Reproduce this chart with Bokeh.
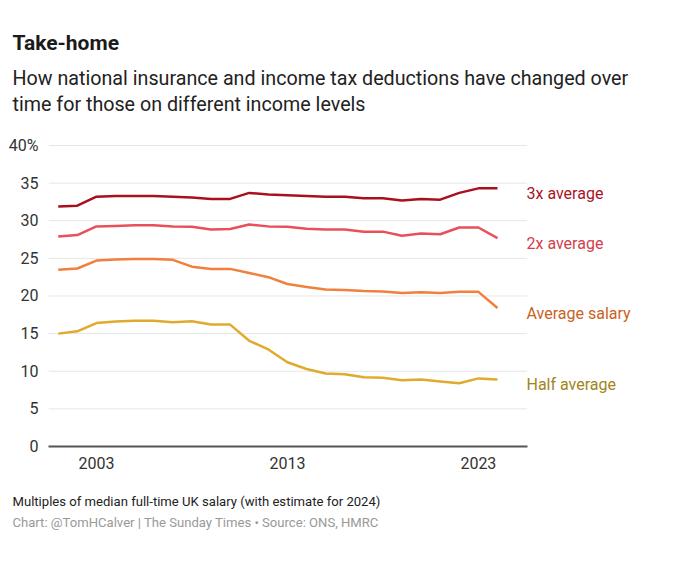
from bokeh.plotting import figure
from bokeh.models import FixedTicker, Range1d, ColumnDataSource, Title
from bokeh.core.properties import value
from bokeh.embed import file_html
from bokeh.resources import INLINE

years = list(range(2001, 2025))
three_x = [31.9, 32.0, 33.2, 33.3, 33.3, 33.3, 33.2, 33.1, 32.9, 32.9, 33.7, 33.5,
           33.4, 33.3, 33.2, 33.2, 33.0, 33.0, 32.7, 32.9, 32.8, 33.7, 34.3, 34.3]
two_x = [27.9, 28.1, 29.25, 29.3, 29.4, 29.4, 29.25, 29.2, 28.85, 28.9, 29.5, 29.25,
         29.2, 28.95, 28.85, 28.85, 28.55, 28.55, 28.0, 28.3, 28.2, 29.1, 29.1, 27.7]
average = [23.5, 23.65, 24.7, 24.85, 24.9, 24.9, 24.8, 23.9, 23.6, 23.6, 23.05, 22.5,
           21.6, 21.2, 20.85, 20.8, 20.65, 20.6, 20.4, 20.5, 20.4, 20.55, 20.55, 18.4]
half = [15.0, 15.3, 16.4, 16.6, 16.7, 16.7, 16.5, 16.65, 16.2, 16.2, 14.05, 12.9,
        11.2, 10.3, 9.7, 9.6, 9.2, 9.15, 8.8, 8.9, 8.65, 8.4, 9.05, 8.9]

series_names = ["3x average", "2x average", "Average salary", "Half average"]
line_colors = ["#a8101e", "#e8505b", "#f0803c", "#e2aa2c"]
label_colors = ["#a8141f", "#d3404d", "#c9631f", "#a08520"]
y_ticks = [0, 5, 10, 15, 20, 25, 30, 35, 40]
x_ticks = [2003, 2013, 2023]

FONT = "Roboto"
X_START, X_GRID_END = 2000.49, 2025.55

p = figure(width=676, height=560, output_backend="svg", toolbar_location=None,
           x_range=Range1d(X_START, 2032.85), y_range=Range1d(0, 40.13),
           min_border_left=48, min_border_right=10, min_border_top=144,
           min_border_bottom=114)
p.outline_line_color = None
p.background_fill_color = "white"
p.border_fill_color = "white"

# y axis
p.yaxis.ticker = FixedTicker(ticks=y_ticks)
p.yaxis.major_label_overrides = {40: "40%"}
p.yaxis.axis_line_color = None
p.yaxis.major_tick_line_color = None
p.yaxis.minor_tick_line_color = None
p.yaxis.major_label_text_font = FONT
p.yaxis.major_label_text_font_size = "16px"
p.yaxis.major_label_text_color = "#333333"
p.yaxis.major_label_standoff = 4

# x axis
p.xaxis.ticker = FixedTicker(ticks=x_ticks)
p.xaxis.bounds = (X_START, X_GRID_END)
p.xaxis.axis_line_color = "#555555"
p.xaxis.axis_line_width = 2
p.xaxis.major_tick_line_color = None
p.xaxis.minor_tick_line_color = None
p.xaxis.major_label_text_font = FONT
p.xaxis.major_label_text_font_size = "16px"
p.xaxis.major_label_text_color = "#333333"
p.xaxis.major_label_standoff = 4

p.xgrid.visible = False
p.ygrid.visible = False
# horizontal gridlines limited to the chart area (labels sit to the right)
p.segment(x0=[X_START] * len(y_ticks), x1=[X_GRID_END] * len(y_ticks),
          y0=y_ticks, y1=y_ticks, line_color="#e6e6e6", line_width=1,
          level="underlay")

src = ColumnDataSource(dict(year=years, three=three_x, two=two_x, avg=average, half=half))
cols = ["three", "two", "avg", "half"]
for col, c in zip(cols, line_colors):
    p.line("year", col, source=src, line_color=c, line_width=2.5, line_join="round")

# end-of-line series labels
last_vals = [three_x[-1], two_x[-1], average[-1], half[-1]]
p.text(x=[years[-1]] * 4, y=last_vals, text=series_names, text_color=label_colors,
       text_font=value(FONT), text_font_size="16px", text_baseline="alphabetic",
       text_align="left", x_offset=29, y_offset=5)


def title(text, size, color, standoff, style="normal"):
    return Title(text=text, align="left", offset=-36, text_font=FONT,
                 text_font_size=size, text_font_style=style, text_color=color,
                 standoff=standoff)


# title block (first added sits nearest the plot)
p.add_layout(title(" ", "19.7px", "#ffffff", 3), "above")
p.add_layout(title("time for those on different income levels", "19.7px", "#222222", 1), "above")
p.add_layout(title("How national insurance and income tax deductions have changed over",
                   "19.7px", "#222222", 1), "above")
p.add_layout(title("Take-home", "21px", "#1a1a1a", 19.2, "bold"), "above")

# footer
p.add_layout(title(" ", "12px", "#ffffff", 1.5), "below")
p.add_layout(title("Multiples of median full-time UK salary (with estimate for 2024)",
                   "13.1px", "#222222", 4.6), "below")
p.add_layout(title("Chart: @TomHCalver | The Sunday Times \u2022 Source: ONS, HMRC",
                   "13.1px", "#999999", 4.2), "below")

open("out.html", "w").write(file_html(p, INLINE))
